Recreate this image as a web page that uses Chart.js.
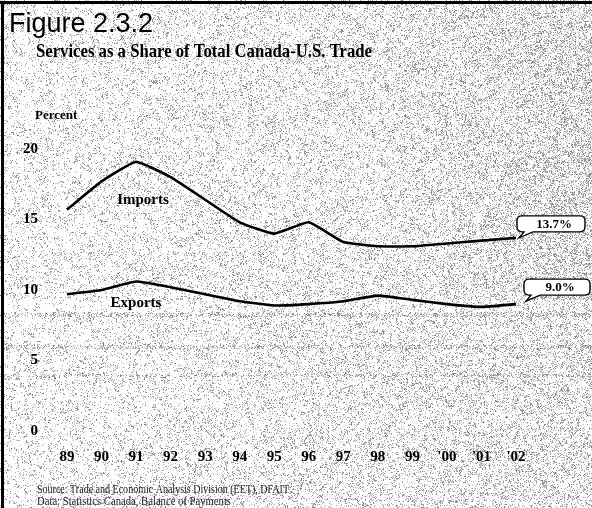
<!DOCTYPE html>
<html>
<head>
<meta charset="utf-8">
<script src="https://cdn.jsdelivr.net/npm/chart.js@4.4.1/dist/chart.umd.min.js"></script>
<style>
  html, body { margin: 0; padding: 0; background: #fff; }
  canvas { display: block; }
</style>
</head>
<body>
<canvas id="chart" width="592" height="508"></canvas>
<script>
// values (percent)
const years = ["89", "90", "91", "92", "93", "94", "95", "96", "97", "98", "99", "'00", "'01", "'02"];
const importsShare = [15.7, 17.7, 19.1, 18.0, 16.4, 14.8, 14.0, 14.8, 13.4, 13.1, 13.1, 13.3, 13.5, 13.7];
const exportsShare = [9.7, 10.0, 10.6, 10.2, 9.7, 9.2, 8.9, 9.0, 9.2, 9.6, 9.3, 9.0, 8.8, 9.0];
const yMin = 0, yMax = 20, yStep = 5;
const callouts = ["13.7%", "9.0%"];

const serif = "'Liberation Serif', 'Times New Roman', serif";

// deterministic speckle for the scanned-paper look
function speck(x, y) {
    let h = (Math.imul(x, 374761393) + Math.imul(y, 668265263)) | 0;
    h = Math.imul(h ^ (h >>> 13), 1274126177);
    h ^= h >>> 16;
    return (h >>> 0) / 4294967296;
}

let backdrop = null;
function buildBackdrop(ctx, w, h) {
    const img = ctx.createImageData(w, h);
    for (let y = 0; y < h; y++) {
        for (let x = 0; x < w; x++) {
            // clumps: mix a coarse cell value with a per-pixel one
            const cell = speck(x >> 2, y >> 2);
            let p = 0.08 + 0.14 * (x / w) + (cell > 0.6 ? 0.18 : 0);
            if (x > 380 && y < 300) p += 0.12 * ((x - 380) / (w - 380));
            if ((y > 312 && y < 317) || (y > 344 && y < 349) || (y > 373 && y < 377)) p += 0.22;
            if (y > 298 && y < 312) p -= 0.06;
            const n = speck(x, y);
            let v = 253;
            if (n < p) v = 125 + Math.floor(speck(y + 7, x + 3) * 95);
            const i = (y * w + x) * 4;
            img.data[i] = v; img.data[i + 1] = v; img.data[i + 2] = v; img.data[i + 3] = 255;
        }
    }
    return img;
}

const backgroundPlugin = {
    id: "paper",
    beforeDraw(chart) {
        const ctx = chart.ctx;
        if (!backdrop) backdrop = buildBackdrop(ctx, chart.width, chart.height);
        ctx.putImageData(backdrop, 0, 0);
        ctx.save();
        ctx.fillStyle = "#000";
        ctx.fillRect(0, 1, chart.width, 3);
        ctx.fillRect(1, 1, 3, chart.height);
        ctx.restore();
    }
};

function roundBox(ctx, x, y, w, h, r) {
    ctx.beginPath();
    ctx.moveTo(x + r, y);
    ctx.lineTo(x + w - r, y);
    ctx.quadraticCurveTo(x + w, y, x + w, y + r);
    ctx.lineTo(x + w, y + h - r);
    ctx.quadraticCurveTo(x + w, y + h, x + w - r, y + h);
    ctx.lineTo(x + 16, y + h);
    ctx.lineTo(x + 2, y + h + 6);
    ctx.lineTo(x + 7, y + h);
    ctx.lineTo(x + r, y + h);
    ctx.quadraticCurveTo(x, y + h, x, y + h - r);
    ctx.lineTo(x, y + r);
    ctx.quadraticCurveTo(x, y, x + r, y);
    ctx.closePath();
}

const textPlugin = {
    id: "texts",
    afterDraw(chart) {
        const ctx = chart.ctx;
        ctx.save();
        ctx.fillStyle = "#000";
        ctx.textBaseline = "alphabetic";
        ctx.textAlign = "left";

        ctx.font = "27px 'Liberation Sans', Arial, sans-serif";
        ctx.fillText("Figure 2.3.2", 9, 32);

        ctx.font = "bold 18px " + serif;
        ctx.fillText("Services as a Share of Total Canada-U.S. Trade", 36, 57, 336);

        ctx.font = "bold 13px " + serif;
        ctx.fillText("Percent", 35, 119);

        ctx.font = "bold 15px " + serif;
        ctx.textAlign = "center";
        ctx.textBaseline = "middle";
        ctx.fillText("Imports", 143, 200);
        ctx.fillText("Exports", 136, 303);

        ctx.textAlign = "left";
        ctx.textBaseline = "middle";
        ctx.font = "11.5px " + serif;
        ctx.fillStyle = "#222";
        ctx.fillText("Source: Trade and Economic Analysis Division (EET), DFAIT", 37, 490, 252);
        ctx.fillText("Data: Statistics Canada, Balance of Payments", 37, 502, 194);

        // callouts at the last point of each line
        const boxes = [{ dx: 1, dy: -22, w: 68 }, { dx: 8, dy: -25, w: 66 }];
        chart.data.datasets.forEach((ds, i) => {
            const pts = chart.getDatasetMeta(i).data;
            const end = pts[pts.length - 1];
            const b = boxes[i];
            const bx = end.x + b.dx, by = end.y + b.dy, bh = 16;
            ctx.save();
            roundBox(ctx, bx, by, b.w, bh, 5);
            ctx.fillStyle = "#fff";
            ctx.fill();
            ctx.lineWidth = 1.4;
            ctx.strokeStyle = "#000";
            ctx.stroke();
            ctx.fillStyle = "#000";
            ctx.font = "bold 13px " + serif;
            ctx.textAlign = "center";
            ctx.textBaseline = "middle";
            ctx.fillText(callouts[i], bx + b.w / 2 + 3, by + bh / 2 + 1);
            ctx.restore();
        });
        ctx.restore();
    }
};

const tickFont = { family: serif, weight: "bold", size: 15 };

new Chart(document.getElementById("chart").getContext("2d"), {
    type: "line",
    data: {
        labels: years,
        datasets: [{
            label: "Imports",
            data: importsShare,
            borderColor: "#000",
            borderWidth: 2.6,
            pointRadius: 0,
            tension: 0.12,
            fill: false
        }, {
            label: "Exports",
            data: exportsShare,
            borderColor: "#000",
            borderWidth: 2.6,
            pointRadius: 0,
            tension: 0.12,
            fill: false
        }]
    },
    options: {
        responsive: false,
        animation: false,
        layout: { padding: { left: 0, right: 76, top: 149, bottom: 0 } },
        plugins: {
            legend: { display: false },
            tooltip: { enabled: false }
        },
        scales: {
            x: {
                grid: { display: false, drawTicks: false },
                border: { display: false },
                ticks: { color: "#000", font: tickFont, padding: 17, maxRotation: 0, autoSkip: false },
                afterFit(scale) { scale.height = 77; }
            },
            y: {
                min: yMin,
                max: yMax,
                grid: { display: false, drawTicks: false },
                border: { display: false },
                ticks: { stepSize: yStep, color: "#000", font: tickFont, padding: 29 },
                afterFit(scale) { scale.width = 67; }
            }
        }
    },
    plugins: [backgroundPlugin, textPlugin]
});
</script>
</body>
</html>
